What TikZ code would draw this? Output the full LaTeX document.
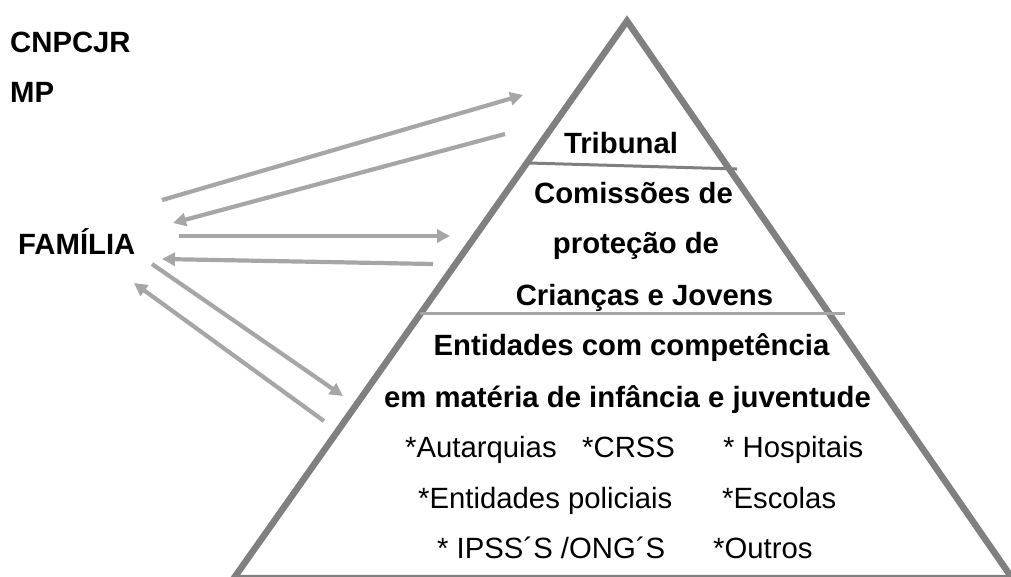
\documentclass[tikz,border=0pt]{standalone}
\usepackage{fontspec}
\setmainfont{Liberation Sans}
\usetikzlibrary{arrows.meta}
\definecolor{edgegray}{HTML}{808080}
\definecolor{arrowgray}{HTML}{A6A6A6}
\begin{document}
\begin{tikzpicture}[x=1pt,y=-1pt,
  lbl/.style={inner sep=0pt,font=\fontsize{29.3}{34}\selectfont\bfseries,anchor=base},
  lblw/.style={lbl,anchor=base west},
  item/.style={inner sep=0pt,font=\fontsize{29.3}{34}\selectfont,anchor=base west},
  flow/.style={draw=arrowgray,line width=4.2pt,-{Triangle[length=13pt,width=13pt]}},
  pyr/.style={draw=edgegray,line width=6.5pt,miter limit=10},
  divider/.style={line width=3pt}]
\useasboundingbox (0,0) rectangle (1011,576);
% pyramid
\coordinate (apex) at (627,21);
\coordinate (bl) at (234,578);
\coordinate (br) at (1012,578);
\draw[pyr] (apex) -- (br) -- (bl) -- cycle;
\coordinate (d1a) at (529,163);
\coordinate (d1b) at (737,169);
\draw[divider,draw=edgegray] (d1a) -- (d1b);
\coordinate (d2a) at (420,313);
\coordinate (d2b) at (845,313);
\draw[divider,draw=arrowgray] (d2a) -- (d2b);
% texts in pyramid
\node[lbl] (trib) at (621,153) {Tribunal};
\node[lbl] (com1) at (633.5,203) {Comissões de};
\node[lbl] (com2) at (636,253) {proteção de};
\node[lbl] (com3) at (644.5,305) {Crianças e Jovens};
\node[lbl] (ent1) at (631.5,355) {Entidades com competência};
\node[lbl] (ent2) at (627.5,407) {em matéria de infância e juventude};
\node[item] (i1) at (405,457) {*Autarquias};
\node[item] (i2) at (582,457) {*CRSS};
\node[item] (i3) at (723,457) {* Hospitais};
\node[item] (i4) at (418,508) {*Entidades policiais};
\node[item] (i5) at (722,508) {*Escolas};
\node[item] (i6) at (437,558) {* IPSS´S /ONG´S};
\node[item] (i7) at (713,558) {*Outros};
% left labels
\node[lblw] (cnp) at (10,52) {CNPCJR};
\node[lblw] (mp) at (10,102) {MP};
\node[lblw] (fam) at (18,254) {FAMÍLIA};
% arrows
\coordinate (a1s) at (162,200); \coordinate (a1e) at (523,95);
\coordinate (a2s) at (505,134); \coordinate (a2e) at (173,223);
\coordinate (a3s) at (179,236); \coordinate (a3e) at (450,236);
\coordinate (a4s) at (433,264); \coordinate (a4e) at (162,259);
\coordinate (a5s) at (152,264); \coordinate (a5e) at (343,396);
\coordinate (a6s) at (324,421); \coordinate (a6e) at (134,283);
\draw[flow] (a1s) -- (a1e);
\draw[flow] (a2s) -- (a2e);
\draw[flow] (a3s) -- (a3e);
\draw[flow] (a4s) -- (a4e);
\draw[flow] (a5s) -- (a5e);
\draw[flow] (a6s) -- (a6e);
\end{tikzpicture}
\end{document}
